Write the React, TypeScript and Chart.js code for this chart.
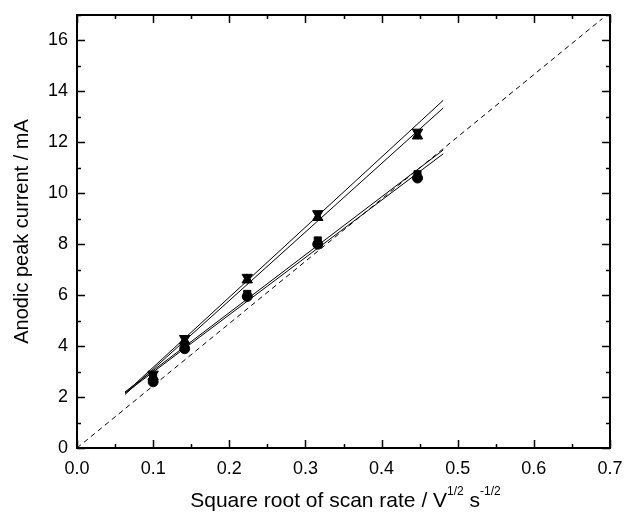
import React, { useEffect, useRef } from "react";
import { Chart, registerables } from "chart.js";

Chart.register(...registerables);

const scanRootX = [0.1, 0.1414, 0.2236, 0.3162, 0.4472];
const circleY = [2.6, 3.9, 5.95, 8.0, 10.6];
const squareY = [2.75, 4.0, 6.05, 8.15, 10.75];
const upTriY = [2.8, 4.2, 6.6, 9.05, 12.25];
const downTriY = [2.9, 4.3, 6.7, 9.2, 12.4];

const fitX = [0.063, 0.481];
const fitUpY = [2.15, 13.65];
const fitDownY = [2.1, 13.35];
const fitSquareY = [2.2, 11.7];
const fitCircleY = [2.15, 11.55];

const refX = [0, 0.69];
const refY = [0, 16.86];

const xTickStep = 0.1;
const yTickStep = 2;

const FONT = "'Liberation Sans', Arial, sans-serif";

const pts = (xs: number[], ys: number[]) => xs.map((x, i) => ({ x, y: ys[i] }));

const framePlugin = {
  id: "frame",
  afterDraw(chart: any) {
    const { ctx, chartArea } = chart;
    const xs = chart.scales.x;
    const ys = chart.scales.y;
    const { left, right, top, bottom } = chartArea;
    ctx.save();
    ctx.strokeStyle = "#000";
    ctx.lineWidth = 2;
    ctx.strokeRect(left, top, right - left, bottom - top);
    ctx.lineWidth = 1.5;
    for (let i = 0; i <= 14; i++) {
      const v = i * 0.05;
      const px = Math.round(xs.getPixelForValue(v)) + 0.5;
      const len = i % 2 === 0 ? 8 : 4;
      ctx.beginPath();
      ctx.moveTo(px, bottom);
      ctx.lineTo(px, bottom - len);
      ctx.moveTo(px, top);
      ctx.lineTo(px, top + len);
      ctx.stroke();
    }
    for (let i = 0; i <= 17; i++) {
      const py = Math.round(ys.getPixelForValue(i)) + 0.5;
      const len = i % 2 === 0 ? 8 : 4;
      ctx.beginPath();
      ctx.moveTo(left, py);
      ctx.lineTo(left + len, py);
      ctx.moveTo(right, py);
      ctx.lineTo(right - len, py);
      ctx.stroke();
    }
    ctx.fillStyle = "#000";
    // y title
    ctx.save();
    ctx.translate(22, (top + bottom) / 2);
    ctx.rotate(-Math.PI / 2);
    ctx.textAlign = "center";
    ctx.textBaseline = "middle";
    ctx.font = `20px ${FONT}`;
    ctx.fillText("Anodic peak current / mA", 0, 0);
    ctx.restore();
    // x title with superscripts
    const parts: [string, boolean][] = [
      ["Square root of scan rate / V", false],
      ["1/2", true],
      [" s", false],
      ["-1/2", true],
    ];
    const big = `21px ${FONT}`;
    const small = `12px ${FONT}`;
    let total = 0;
    for (const [t, sup] of parts) {
      ctx.font = sup ? small : big;
      total += ctx.measureText(t).width;
    }
    let cx = (left + right) / 2 - total / 2 + 2;
    const baseY = 507;
    ctx.textAlign = "left";
    ctx.textBaseline = "alphabetic";
    for (const [t, sup] of parts) {
      ctx.font = sup ? small : big;
      ctx.fillText(t, cx, sup ? baseY - 12 : baseY);
      cx += ctx.measureText(t).width;
    }
    ctx.restore();
  },
};

export default function App() {
  const ref = useRef<HTMLCanvasElement>(null);
  useEffect(() => {
    if (!ref.current) return;
    const lineDs = (ys: number[], xs: number[], dash: number[] = []) => ({
      type: "line" as const,
      data: pts(xs, ys),
      borderColor: "#000",
      borderWidth: 1,
      borderDash: dash,
      pointRadius: 0,
      fill: false,
      showLine: true,
    });
    const ptDs = (ys: number[], style: string, rot = 0, r = 5.5) => ({
      type: "scatter" as const,
      data: pts(scanRootX, ys),
      pointStyle: style,
      rotation: rot,
      pointRadius: r,
      backgroundColor: "#000",
      borderColor: "#000",
      borderWidth: 1,
      showLine: false,
    });
    const chart = new Chart(ref.current, {
      type: "scatter",
      data: {
        datasets: [
          lineDs(refY, refX, [5, 4]),
          lineDs(fitUpY, fitX),
          lineDs(fitDownY, fitX),
          lineDs(fitSquareY, fitX),
          lineDs(fitCircleY, fitX),
          ptDs(circleY, "circle", 0, 5),
          ptDs(squareY, "rect", 0, 5),
          ptDs(upTriY, "triangle", 0, 6),
          ptDs(downTriY, "triangle", 180, 6),
        ] as any,
      },
      options: {
        animation: false,
        responsive: false,
        maintainAspectRatio: false,
        layout: { padding: { top: 15, right: 17, left: 0, bottom: 0 } },
        plugins: {
          legend: { display: false },
          tooltip: { enabled: false },
        },
        scales: {
          x: {
            type: "linear",
            min: 0,
            max: 0.7,
            afterFit(s: any) {
              s.height = 66;
              s.paddingLeft = 0;
              s.paddingRight = 0;
            },
            ticks: {
              stepSize: xTickStep,
              padding: 10,
              color: "#000",
              font: { family: FONT, size: 18 },
              maxRotation: 0,
              callback: (v: any) => Number(v).toFixed(1),
            },
            grid: { display: false, drawTicks: false },
            border: { display: false },
          },
          y: {
            type: "linear",
            min: 0,
            max: 17,
            afterFit(s: any) {
              s.width = 77;
              s.paddingTop = 0;
              s.paddingBottom = 0;
            },
            afterBuildTicks(s: any) {
              s.ticks = s.ticks.filter((t: any) => Math.abs(t.value % yTickStep) < 1e-9);
            },
            ticks: {
              stepSize: yTickStep,
              padding: 9,
              color: "#000",
              font: { family: FONT, size: 18 },
            },
            grid: { display: false, drawTicks: false },
            border: { display: false },
          },
        },
      } as any,
      plugins: [framePlugin],
    });
    return () => chart.destroy();
  }, []);
  return (
    <div style={{ position: "fixed", left: 0, top: 0, width: 627, height: 514, background: "#fff" }}>
      <canvas ref={ref} width={627} height={514} style={{ width: 627, height: 514 }} />
    </div>
  );
}
